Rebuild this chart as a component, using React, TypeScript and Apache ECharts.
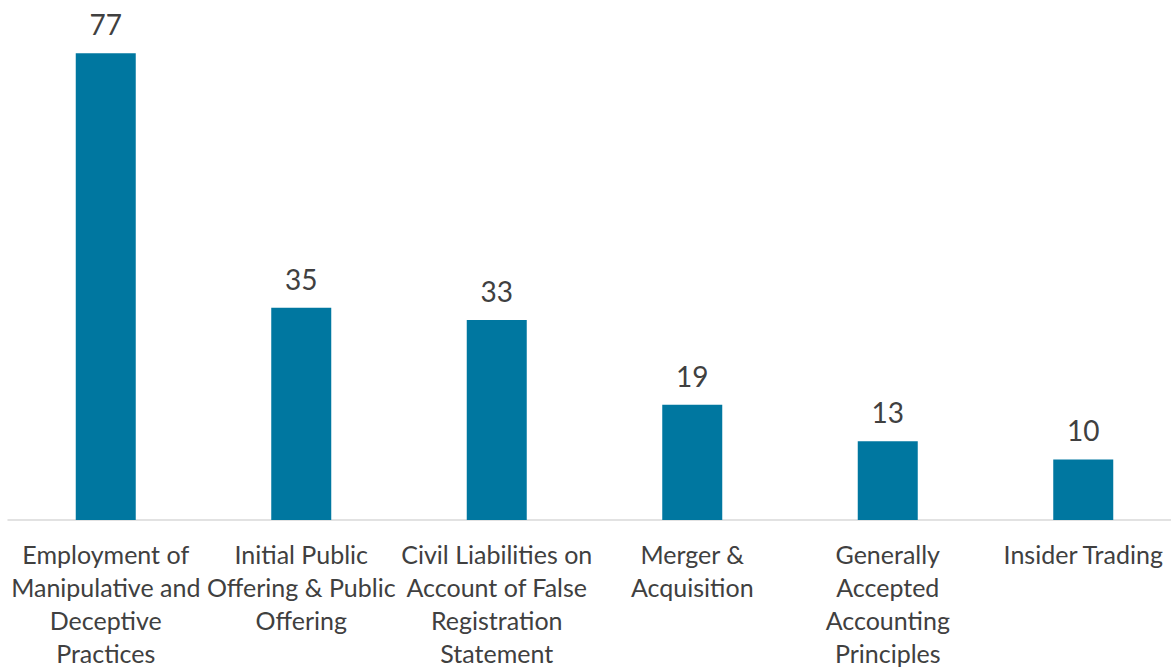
import React, { useEffect, useRef } from "react";
import * as echarts from "echarts";

const categories = [
  "Employment of\nManipulative and\nDeceptive\nPractices",
  "Initial Public\nOffering & Public\nOffering",
  "Civil Liabilities on\nAccount of False\nRegistration\nStatement",
  "Merger &\nAcquisition",
  "Generally\nAccepted\nAccounting\nPrinciples",
  "Insider Trading",
];
const values = [77, 35, 33, 19, 13, 10];

export default function App() {
  const ref = useRef<HTMLDivElement>(null);
  useEffect(() => {
    if (!ref.current) return;
    const chart = echarts.init(ref.current, undefined, { renderer: "svg" });
    chart.setOption({
      animation: false,
      grid: { left: 8, top: 35, width: 1173, height: 486, containLabel: false },
      xAxis: {
        type: "category",
        data: categories,
        axisLine: { show: true, lineStyle: { color: "#d9d9d9", width: 1.5 } },
        axisTick: { show: false },
        axisLabel: {
          interval: 0,
          color: "#404040",
          fontFamily: "Lato",
          fontSize: 25,
          lineHeight: 33,
          margin: 17,
          align: "center",
        },
      },
      yAxis: {
        type: "value",
        min: 0,
        max: 80,
        show: false,
        splitLine: { show: false },
      },
      series: [
        {
          type: "bar",
          data: values,
          barWidth: 60,
          itemStyle: { color: "#0077a0" },
          label: {
            show: true,
            position: "top",
            distance: 15,
            color: "#404040",
            fontFamily: "Lato",
            fontSize: 28,
          },
        },
      ],
    });
    return () => chart.dispose();
  }, []);
  return (
    <div
      style={{ position: "fixed", left: 0, top: 0, width: 1171, height: 669, overflow: "hidden", background: "#fff" }}
    >
      <div ref={ref} style={{ width: 1200, height: 669 }} />
    </div>
  );
}
